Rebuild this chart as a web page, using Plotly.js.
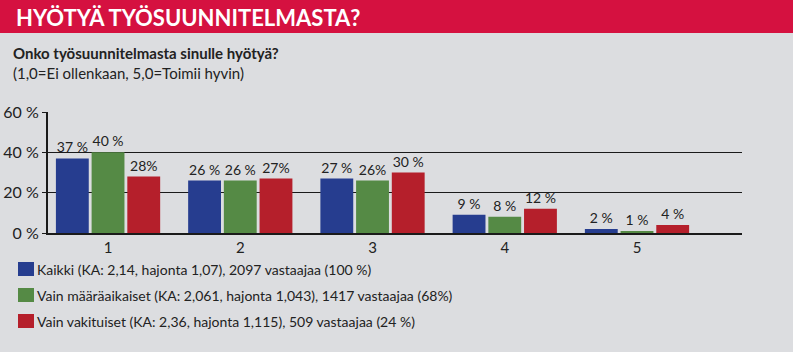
<!DOCTYPE html>
<html><head><meta charset="utf-8">
<script src="https://cdn.plot.ly/plotly-3.0.1.min.js"></script>
<style>html,body{margin:0;padding:0;background:#dcdde0;}#chart{width:793px;height:352px;}</style>
</head><body><div id="chart"></div>
<script>
const categories = ['1','2','3','4','5'];
const kaikki = [37, 26, 27, 9, 2];
const maaraaikaiset = [40, 26, 26, 8, 1];
const vakituiset = [28, 27, 30, 12, 4];
const kaikkiLabels = ['37 %','26 %','27 %','9 %','2 %'];
const maaraLabels = ['40 %','26 %','26%','8 %','1 %'];
const vakiLabels = ['28%','27%','30 %','12 %','4 %'];
const seriesNames = [
  'Kaikki (KA: 2,14, hajonta 1,07), 2097 vastaajaa (100 %)',
  'Vain määräaikaiset (KA: 2,061, hajonta 1,043), 1417 vastaajaa (68%)',
  'Vain vakituiset (KA: 2,36, hajonta 1,115), 509 vastaajaa (24 %)'
];
const seriesColors = ['#263d8f', '#558a45', '#b51f2b'];
const yTicks = [0, 20, 40, 60];
const yTickLabels = ['0 %','20 %','40 %','60 %'];

const FONT = 'Lato, Open Sans, sans-serif';
const W = 694, H = 121; // plot area size in px (for paper-relative placement of decorations)
function px(x){ return (x-48)/W; }
function py(y){ return (233-y)/H; }

function tr(vals, labels, name, color){
  return {type:'bar', x:categories, y:vals, name:name, text:labels,
    textposition:'outside', cliponaxis:false, constraintext:'none',
    textfont:{family:FONT, size:14, color:'#222'},
    marker:{color:color, line:{width:0}}, hoverinfo:'skip', showlegend:false};
}
const data = [
  tr(kaikki, kaikkiLabels, seriesNames[0], seriesColors[0]),
  tr(maaraaikaiset, maaraLabels, seriesNames[1], seriesColors[1]),
  tr(vakituiset, vakiLabels, seriesNames[2], seriesColors[2])
];

const shapes = [{type:'rect', xref:'paper', yref:'paper', x0:px(0), x1:px(793), y0:py(33), y1:py(0),
    fillcolor:'#d51140', line:{width:0}, layer:'below'}];
const annotations = [
  {xref:'paper', yref:'paper', x:px(14), y:py(17), xanchor:'left', yanchor:'middle', showarrow:false,
    text:'<b>HYÖTYÄ TYÖSUUNNITELMASTA?</b>', font:{family:FONT, size:22, weight:900, color:'#ffffff'}},
  {xref:'paper', yref:'paper', x:px(11), y:py(53), xanchor:'left', yanchor:'middle', showarrow:false,
    text:'<b>Onko työsuunnitelmasta sinulle hyötyä?</b>', font:{family:FONT, size:15, color:'#222'}},
  {xref:'paper', yref:'paper', x:px(11), y:py(73), xanchor:'left', yanchor:'middle', showarrow:false,
    text:'(1,0=Ei ollenkaan, 5,0=Toimii hyvin)', font:{family:FONT, size:15, color:'#222'}}
];
const legendRows = [269, 295, 321];
seriesNames.forEach(function(n, i){
  const yc = legendRows[i];
  shapes.push({type:'rect', xref:'paper', yref:'paper', x0:px(18), x1:px(34), y0:py(yc+7), y1:py(yc-7),
    fillcolor:seriesColors[i], line:{width:0}});
  annotations.push({xref:'paper', yref:'paper', x:px(35), y:py(yc), xanchor:'left', yanchor:'middle',
    showarrow:false, text:n, font:{family:FONT, size:14, color:'#222'}});
});

const layout = {
  width:793, height:352,
  paper_bgcolor:'#dcdde0', plot_bgcolor:'#dcdde0',
  margin:{l:48, r:51, t:112, b:119, autoexpand:false},
  font:{family:FONT, color:'#222', size:14},
  barmode:'group', bargap:0.19, bargroupgap:0.08,
  showlegend:false,
  xaxis:{type:'category', range:[-0.454, 4.794], showline:true, linecolor:'#1a1a1a', linewidth:2,
    ticks:'', showgrid:false, tickfont:{size:15, color:'#222'}, fixedrange:true},
  yaxis:{range:[0,60], tickvals:yTicks, ticktext:yTickLabels, showline:true, linecolor:'#1a1a1a', linewidth:2,
    ticks:'outside', ticklen:4, tickcolor:'#1a1a1a', showgrid:true, gridcolor:'#1a1a1a', gridwidth:1,
    zeroline:false, tickfont:{size:16, color:'#222'}, fixedrange:true},
  shapes:shapes, annotations:annotations
};
Plotly.newPlot('chart', data, layout, {displayModeBar:false, staticPlot:true});
</script></body></html>
